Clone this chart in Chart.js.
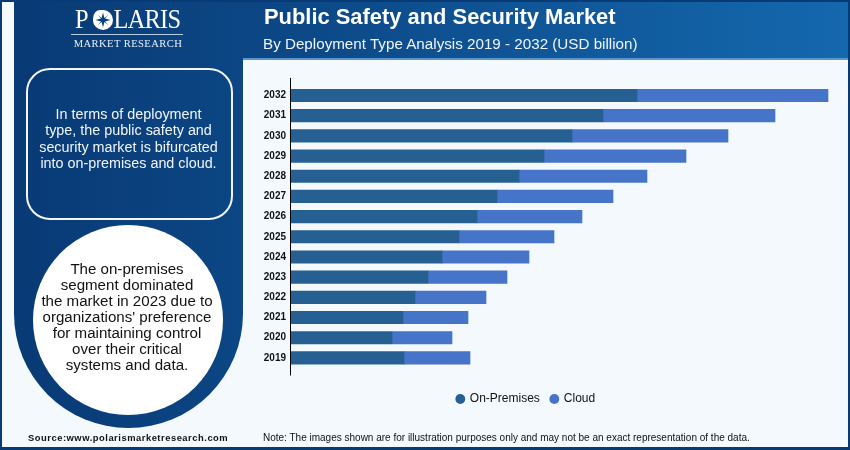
<!DOCTYPE html>
<html>
<head>
<meta charset="utf-8">
<script src="https://cdn.jsdelivr.net/npm/chart.js@4"></script>
<style>
html,body{margin:0;padding:0;width:850px;height:450px;overflow:hidden;background:#f4f9fd;font-family:"Liberation Sans",Arial,sans-serif}
div,svg,canvas{position:absolute}
.t{white-space:nowrap;text-align:center}
</style>
</head>
<body>
<div style="left:243px;top:58px;width:605px;height:2px;background:#5b95cf"></div>
<div style="left:14px;top:2px;width:834px;height:56px;background:linear-gradient(90deg,#083a75 0%,#0c4684 30%,#1468ae 100%)"></div>
<div style="left:14px;top:2px;width:229px;height:426px;background:linear-gradient(90deg,#083a75,#0c4684);border-radius:0 0 115px 115px"></div>
<div style="left:26px;top:68px;width:203px;height:148px;border:2px solid #f2f6fa;border-radius:24px"></div>
<div style="left:33px;top:225px;width:190px;height:190px;background:#fff;border-radius:50%"></div>
<canvas id="c" width="850" height="450" style="left:0;top:0;width:850px;height:450px"></canvas>

<div class="t" style="left:75px;top:4px;font:28px/30px 'Liberation Serif',serif;letter-spacing:-0.8px;color:#fff;transform:scaleX(.87);transform-origin:0 0;text-align:left">P<span style="margin:0 5px">O</span>LARIS</div>
<svg style="left:93px;top:9.5px" width="20" height="20" viewBox="-10 -10 20 20">
<circle r="10" fill="#fff"/>
<path d="M0-7.5 1.4-2 5.3-5.3 2-1.4 7.5 0 2 1.4 5.3 5.3 1.4 2 0 7.5-1.4 2-5.3 5.3-2 1.4-7.5 0-2-1.4-5.3-5.3-1.4-2Z" fill="#0a4280"/>
</svg>
<div style="left:71px;top:34px;width:112px;height:1px;background:#b9cde2"></div>
<div class="t" style="left:28px;top:37px;width:200px;font:10.6px/13px 'Liberation Serif',serif;letter-spacing:0.4px;color:#e9f0f7">MARKET RESEARCH</div>

<div class="t" style="left:264px;top:5px;font:bold 21.9px/24px 'Liberation Sans',Arial,sans-serif;color:#fff">Public Safety and Security Market</div>
<div class="t" style="left:263px;top:35px;font:15.2px/18px 'Liberation Sans',Arial,sans-serif;color:#f0f5fa">By Deployment Type Analysis 2019 - 2032 (USD billion)</div>

<div class="t" style="left:28.5px;top:106px;width:200px;font:14.35px/16.3px 'Liberation Sans',Arial,sans-serif;color:#f2f6fa">In terms of deployment<br>type, the public safety and<br>security market is bifurcated<br>into on-premises and cloud.</div>
<div class="t" style="left:27px;top:261px;width:200px;font:15.1px/16px 'Liberation Sans',Arial,sans-serif;color:#111">The on-premises<br>segment dominated<br>the market in 2023 due to<br>organizations' preference<br>for maintaining control<br>over their critical<br>systems and data.</div>

<div class="t" style="left:28px;top:432px;font:bold 9.4px/12px 'Liberation Sans',Arial,sans-serif;letter-spacing:0.52px;color:#111">Source:www.polarismarketresearch.com</div>
<div class="t" style="left:263px;top:432px;font:10px/12px 'Liberation Sans',Arial,sans-serif;color:#111">Note: The images shown are for illustration purposes only and may not be an exact representation of the data.</div>

<div style="left:0;top:0;width:850px;height:2px;background:#083a75"></div>
<div style="left:0;top:447px;width:850px;height:3px;background:#083a75"></div>
<div style="left:0;top:0;width:2px;height:450px;background:#083a75"></div>
<div style="left:848px;top:0;width:2px;height:450px;background:#083a75"></div>

<script>
const categories = ['2032','2031','2030','2029','2028','2027','2026','2025','2024','2023','2022','2021','2020','2019'];
const onPremises = [34.6,31.2,28.1,25.3,22.8,20.6,18.6,16.8,15.1,13.7,12.4,11.2,10.1,11.3];
const cloud      = [19.1,17.2,15.6,14.2,12.8,11.6,10.5,9.5,8.7,7.9,7.1,6.5,6.0,6.6];

const yAxisLine = {
  id:'yAxisLine',
  afterDatasetsDraw(chart){
    const a = chart.chartArea, c = chart.ctx;
    c.save();
    c.strokeStyle='#000'; c.lineWidth=1;
    c.beginPath();
    c.moveTo(a.left-0.5,a.top-7.5);
    c.lineTo(a.left-0.5,a.bottom+7.5);
    c.stroke();
    c.restore();
  }
};

new Chart(document.getElementById('c'),{
  type:'bar',
  data:{labels:categories,datasets:[
    {label:'On-Premises',data:onPremises,backgroundColor:'#266092',barThickness:12.5},
    {label:'Cloud',data:cloud,backgroundColor:'#4674c8',barThickness:12.5}
  ]},
  plugins:[yAxisLine],
  options:{
    indexAxis:'y',
    responsive:false,
    animation:false,
    devicePixelRatio:1,
    layout:{padding:{left:211,right:9,top:85.4,bottom:35}},
    scales:{
      x:{stacked:true,min:0,max:55,
        ticks:{display:false},grid:{display:false},border:{display:false},
        afterFit(s){s.height=14;}},
      y:{stacked:true,
        grid:{display:false,drawTicks:false},border:{display:false},
        ticks:{color:'#111',padding:5,autoSkip:false,font:{family:'"Liberation Sans",Arial,sans-serif',size:10,weight:'bold'}},
        afterFit(s){s.width=80;}}
    },
    plugins:{
      tooltip:{enabled:false},
      legend:{position:'bottom',
        labels:{usePointStyle:true,pointStyle:'circle',boxHeight:7,boxWidth:7,padding:11,color:'#111',
          font:{family:'"Liberation Sans",Arial,sans-serif',size:12}}}
    }
  }
});
</script>
</body>
</html>
